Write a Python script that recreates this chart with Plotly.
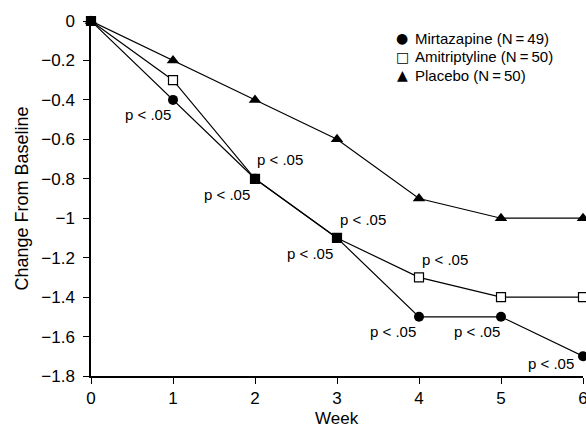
import plotly.graph_objects as go

weeks = [0, 1, 2, 3, 4, 5, 6]
mirtazapine = [0, -0.4, -0.8, -1.1, -1.5, -1.5, -1.7]
amitriptyline = [0, -0.3, -0.8, -1.1, -1.3, -1.4, -1.4]
placebo = [0, -0.2, -0.4, -0.6, -0.9, -1.0, -1.0]
series_names = ["Mirtazapine (N\u2009=\u200949)", "Amitriptyline (N\u2009=\u200950)", "Placebo (N\u2009=\u200950)"]
legend_symbols = ["\u25CF", "\u25A1", "\u25B2"]
y_ticks = [0, -0.2, -0.4, -0.6, -0.8, -1.0, -1.2, -1.4, -1.6, -1.8]
y_tick_labels = ["0", "\u22120.2", "\u22120.4", "\u22120.6", "\u22120.8", "\u22121", "\u22121.2", "\u22121.4", "\u22121.6", "\u22121.8"]
x_ticks = [0, 1, 2, 3, 4, 5, 6]
x_title = "Week"
y_title = "Change From Baseline"
sig_text = "p < .05"

# significance labels: (week, value, dx px, dy px downward)
sig_labels = [
    (1, -0.4, -25, 15),
    (2, -0.8, -28, 16),
    (2, -0.8, 25, -19),
    (3, -1.1, -27, 16),
    (3, -1.1, 26, -18),
    (4, -1.3, 26, -18),
    (4, -1.5, -26, 15),
    (5, -1.5, -24, 15),
    (6, -1.7, -32, 7),
]

font_family = "Liberation Sans, Arial, sans-serif"
line_style = dict(color="black", width=1.2)

# plot area geometry (figure pixels)
W, H = 586, 427
ML, MR, MT, MB = 91, 3, 21, 51
PW, PH = W - ML - MR, H - MT - MB

fig = go.Figure()
fig.add_trace(go.Scatter(
    x=weeks, y=placebo, name=series_names[2], mode="lines+markers",
    line=line_style, cliponaxis=False, showlegend=False,
    marker=dict(symbol="triangle-up", size=11, color="black"),
))
fig.add_trace(go.Scatter(
    x=weeks, y=mirtazapine, name=series_names[0], mode="lines+markers",
    line=line_style, cliponaxis=False, showlegend=False,
    marker=dict(symbol="circle", size=10, color="black"),
))
fig.add_trace(go.Scatter(
    x=weeks, y=amitriptyline, name=series_names[1], mode="lines+markers",
    line=line_style, cliponaxis=False, showlegend=False,
    marker=dict(symbol="square", size=9,
                color=["black", "white", "black", "black", "white", "white", "white"],
                line=dict(color="black", width=1.2)),
))

for wk, val, dx, dy in sig_labels:
    fig.add_annotation(x=wk, y=val, text=sig_text, showarrow=False,
                       xshift=dx, yshift=-dy,
                       font=dict(size=15, color="black", family=font_family))

# legend drawn with annotations (figure pixel positions converted to paper coords)
leg_text_x = 413
leg_sym_x = 402
leg_rows = [38, 57, 75]
for sym, name, row in zip(legend_symbols, series_names, leg_rows):
    py = (MT + PH - row) / PH
    fig.add_annotation(xref="paper", yref="paper", x=(leg_text_x - ML) / PW, y=py,
                       xanchor="left", yanchor="middle", text=name, showarrow=False,
                       font=dict(size=15, color="black", family=font_family))
    fig.add_annotation(xref="paper", yref="paper", x=(leg_sym_x - ML) / PW, y=py,
                       xanchor="center", yanchor="middle", text=sym, showarrow=False,
                       font=dict(size=14, color="black", family="DejaVu Sans, sans-serif"))

# x-axis title as annotation (sits low, near the bottom edge)
fig.add_annotation(xref="paper", yref="paper", x=0.5, y=(MT + PH - 418) / PH,
                   xanchor="center", yanchor="middle", text=x_title, showarrow=False,
                   font=dict(size=17, color="black", family=font_family))

fig.update_layout(
    width=W, height=H,
    margin=dict(l=ML, r=MR, t=MT, b=MB),
    paper_bgcolor="white", plot_bgcolor="white",
    font=dict(family=font_family, color="black", size=17),
    showlegend=False,
)
fig.update_xaxes(range=[0, 6], tickvals=x_ticks, showline=True, linecolor="black", linewidth=1.5,
                 ticks="outside", ticklen=6, tickcolor="black", tickwidth=1.2, showgrid=False,
                 zeroline=False, automargin=False, ticklabeloverflow="allow",
                 tickfont=dict(size=17))
fig.update_yaxes(range=[-1.8, 0], tickvals=y_ticks, ticktext=y_tick_labels, showline=True,
                 linecolor="black", linewidth=1.5, ticks="outside", ticklen=6, tickcolor="black",
                 tickwidth=1.2, showgrid=False, zeroline=False, automargin=False,
                 ticklabelstandoff=5, ticklabeloverflow="allow",
                 title=dict(text=y_title, standoff=8, font=dict(size=18)),
                 tickfont=dict(size=17))

fig.write_html("out.html", config={"displayModeBar": False},
               post_script="document.body.style.margin='0';document.body.style.overflow='hidden';")
